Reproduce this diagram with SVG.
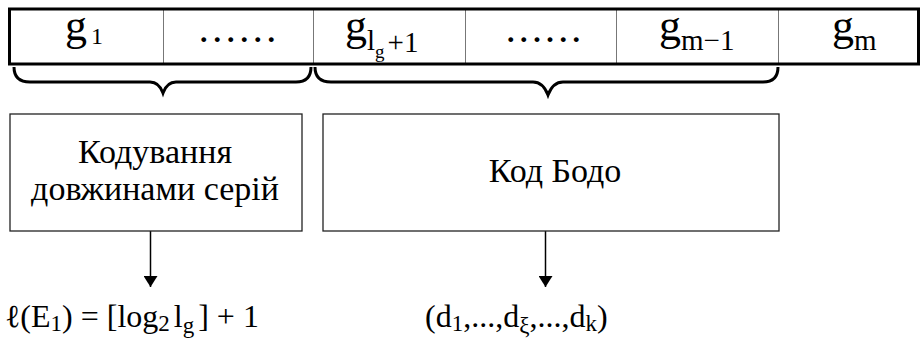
<svg xmlns="http://www.w3.org/2000/svg" width="921" height="344" viewBox="0 0 921 344" font-family="Liberation Serif">
<defs>
<marker id="ah" markerWidth="11" markerHeight="14" refX="11" refY="7" orient="auto" markerUnits="userSpaceOnUse">
<path d="M0,0 L11,7 L0,14 Z" fill="#000"/>
</marker>
</defs>
<g id="sequence">
<rect x="10" y="9" width="909" height="55" fill="#fff" stroke="none"/>
<g stroke="#777" stroke-width="1">
<line x1="163.5" y1="10" x2="163.5" y2="64"/>
<line x1="313.5" y1="10" x2="313.5" y2="64"/>
<line x1="465.5" y1="10" x2="465.5" y2="64"/>
<line x1="616.5" y1="10" x2="616.5" y2="64"/>
<line x1="778.5" y1="10" x2="778.5" y2="64"/>
</g>
<rect x="9.5" y="9" width="909" height="55" fill="none" stroke="#000" stroke-width="3"/>
<text x="65" y="40" font-family="Liberation Serif" font-size="44" style="font-family:'Liberation Serif',serif !important">g<tspan dx="4" dy="4" font-size="24">1</tspan></text>
<text x="200" y="42" textLength="75" lengthAdjust="spacing" font-family="Liberation Serif" font-size="30" font-weight="bold" style="font-family:'Liberation Serif',serif !important">......</text>
<text x="345" y="40" font-family="Liberation Serif" font-size="44" style="font-family:'Liberation Serif',serif !important">g<tspan dy="10" font-size="29">l</tspan><tspan dy="8" font-size="19">g</tspan><tspan dx="3" dy="-6" font-size="29">+1</tspan></text>
<text x="507" y="42" textLength="73" lengthAdjust="spacing" font-family="Liberation Serif" font-size="30" font-weight="bold" style="font-family:'Liberation Serif',serif !important">......</text>
<text x="659" y="40" font-family="Liberation Serif" font-size="44" style="font-family:'Liberation Serif',serif !important">g<tspan dy="10" font-size="29">m−1</tspan></text>
<text x="832" y="40" font-family="Liberation Serif" font-size="44" style="font-family:'Liberation Serif',serif !important">g<tspan dy="10" font-size="29">m</tspan></text>
</g>
<g id="connectors">
<g fill="none" stroke="#000" stroke-width="3">
<path d="M14,67 Q14,82 30,82 L150,82 Q159,82 163,93 Q167,82 176,82 L296,82 Q311,82 311,67"/>
<path d="M315,67 Q315,82 331,82 L533,82 Q543,82 548,95 Q553,82 563,82 L763,82 Q778,82 778,67"/>
</g>
<g stroke="#000" stroke-width="1.5">
<line x1="150.5" y1="231" x2="150.5" y2="287" marker-end="url(#ah)"/>
<line x1="545.5" y1="231" x2="545.5" y2="287" marker-end="url(#ah)"/>
</g>
</g>
<g id="rle">
<rect x="10" y="114" width="292" height="117" fill="#fff" stroke="#222" stroke-width="1.3"/>
<text x="155" y="163" text-anchor="middle" font-family="Liberation Serif" font-size="34" style="font-family:'Liberation Serif',serif !important">Кодування</text>
<text x="155" y="200" text-anchor="middle" font-family="Liberation Serif" font-size="34" style="font-family:'Liberation Serif',serif !important">довжинами серій</text>
</g>
<g id="baudot">
<rect x="323" y="114" width="456" height="117" fill="#fff" stroke="#222" stroke-width="1.3"/>
<text x="555" y="182" text-anchor="middle" font-family="Liberation Serif" font-size="34" style="font-family:'Liberation Serif',serif !important">Код Бодо</text>
</g>
<g id="out1">
<text x="5" y="327" font-family="Liberation Serif" font-size="32" style="font-family:'Liberation Serif',serif !important">ℓ(E<tspan dy="4" font-size="23">1</tspan><tspan dy="-4">) = [log</tspan><tspan dy="4" font-size="23">2</tspan><tspan dx="4" dy="-4">l</tspan><tspan dy="6" font-size="23">g</tspan><tspan dx="4" dy="-6">] + 1</tspan></text>
</g>
<g id="out2">
<text x="425" y="327" font-family="Liberation Serif" font-size="32" style="font-family:'Liberation Serif',serif !important">(d<tspan dy="4" font-size="23">1</tspan><tspan dy="-4">,...,d</tspan><tspan dy="6" font-size="23">ξ</tspan><tspan dy="-6">,...,d</tspan><tspan dy="4" font-size="23">k</tspan><tspan dy="-4">)</tspan></text>
</g>
</svg>
